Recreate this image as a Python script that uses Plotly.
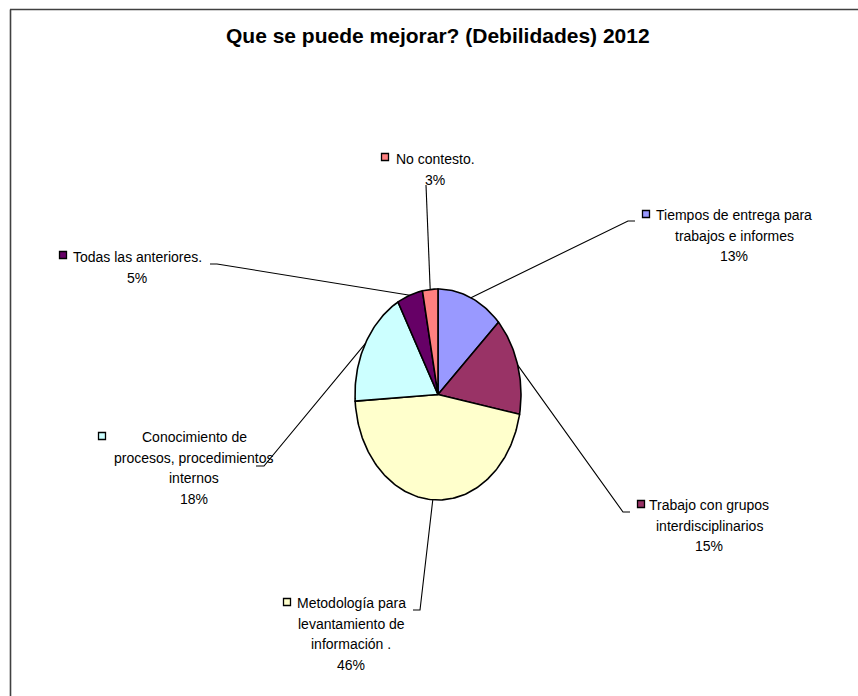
import numpy as np
import plotly.graph_objects as go

# Survey answers: share of responses per improvement area (percent)
categories = [
    "Tiempos de entrega para<br>trabajos e informes",
    "Trabajo con grupos<br>interdisciplinarios",
    "Metodología para<br>levantamiento de<br>información .",
    "Conocimiento de<br>procesos, procedimientos<br>internos",
    "Todas las anteriores.",
    "No contesto.",
]
values = [13, 15, 46, 18, 5, 3]
colors = ["#9999FF", "#993366", "#FFFFCC", "#CCFFFF", "#660066", "#FF8080"]

title_text = "Que se puede mejorar? (Debilidades) 2012"

# ---- layout (pixel space) ----
W, H = 858, 696
CX, CY, RX, RY = 438.0, 394.5, 83.0, 105.5
FONT = "Liberation Sans, Arial, sans-serif"
FS = 14
LINE_H = 20.7

# label block: (center x, first line y), legend key position, leader elbow points
label_center = [(734, 215), (709, 505), (351, 603), (194, 437), (137, 257), (435, 159)]
key_pos = [(646, 214), (641, 504), (287, 602), (102, 436), (63, 255), (385, 157)]
elbows = [
    [(628, 221), (635, 221)],
    [(623, 512), (630, 512)],
    [(420, 610), (413, 610)],
    [(264, 466), (256, 466)],
    [(217, 264), (210, 264)],
    [(426, 185)],
]


def edge_point(frac):
    t = 2 * np.pi * frac
    return CX + RX * np.sin(t), CY - RY * np.cos(t)


fig = go.Figure()

total = float(sum(values))
start = 0.0
mids = []
for val, col in zip(values, colors):
    frac0 = start / total
    frac1 = (start + val) / total
    ts = np.linspace(frac0, frac1, max(8, int(val * 3)))
    xs = [CX] + [edge_point(f)[0] for f in ts] + [CX]
    ys = [CY] + [edge_point(f)[1] for f in ts] + [CY]
    fig.add_trace(go.Scatter(
        x=xs, y=ys, mode="lines", fill="toself", fillcolor=col,
        line=dict(color="black", width=1.6), hoverinfo="skip", showlegend=False,
    ))
    mids.append((frac0 + frac1) / 2)
    start += val

# leader lines from slice edge to label
for m, pts in zip(mids, elbows):
    px, py = edge_point(m)
    xs = [px] + [p[0] for p in pts]
    ys = [py] + [p[1] for p in pts]
    fig.add_trace(go.Scatter(
        x=xs, y=ys, mode="lines", line=dict(color="black", width=1.1),
        hoverinfo="skip", showlegend=False,
    ))

# legend keys
fig.add_trace(go.Scatter(
    x=[k[0] for k in key_pos], y=[k[1] for k in key_pos], mode="markers",
    marker=dict(symbol="square", size=7, color=colors,
                line=dict(color="black", width=1.3)),
    hoverinfo="skip", showlegend=False,
))

annotations = []
for cat, val, (lx, ly) in zip(categories, values, label_center):
    lines = cat.split("<br>") + [f"{val / total * 100:.0f}%"]
    for i, line in enumerate(lines):
        annotations.append(dict(
            x=lx, y=ly + i * LINE_H, xref="x", yref="y",
            text=line, showarrow=False, align="center",
            xanchor="center", yanchor="middle",
            font=dict(family=FONT, size=FS, color="black"),
        ))

annotations.append(dict(
    x=438, y=35, xref="x", yref="y", text=f"<b>{title_text}</b>",
    showarrow=False, xanchor="center", yanchor="middle",
    font=dict(family=FONT, size=21, color="black"),
))

fig.update_layout(
    width=W, height=H,
    margin=dict(l=0, r=0, t=0, b=0),
    paper_bgcolor="white", plot_bgcolor="white",
    xaxis=dict(range=[0, W], visible=False, fixedrange=True),
    yaxis=dict(range=[H, 0], visible=False, fixedrange=True),
    annotations=annotations,
    shapes=[
        dict(type="line", xref="x", yref="y", x0=10, y0=9.5, x1=W, y1=9.5,
             line=dict(color="#404040", width=1.6)),
        dict(type="line", xref="x", yref="y", x0=10.5, y0=9.5, x1=10.5, y1=H,
             line=dict(color="#404040", width=1.6)),
    ],
)

fig.write_html("out.html")
